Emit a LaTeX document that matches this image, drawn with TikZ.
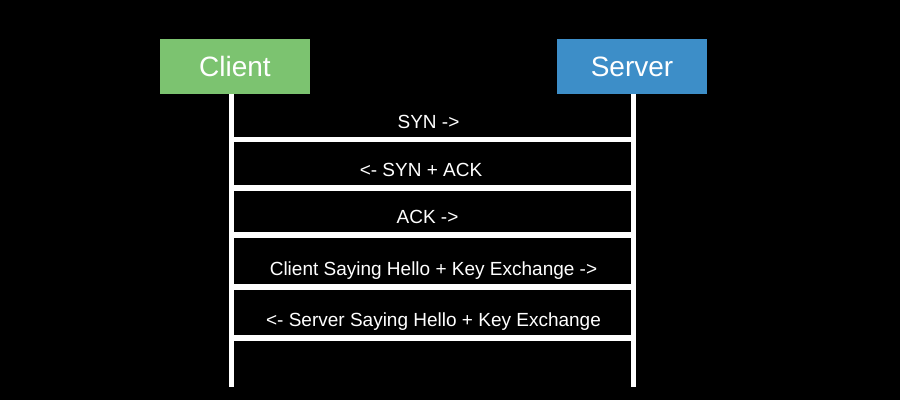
\documentclass[tikz,border=0pt]{standalone}
\usepackage{fontspec}
\setmainfont{Liberation Sans}
\definecolor{clientgreen}{HTML}{7CC370}
\definecolor{serverblue}{HTML}{3D8EC8}
\tikzset{
  actor/.style={minimum width=150pt, minimum height=55pt, inner sep=0pt, text=white, font=\fontsize{28}{30}\selectfont},
  lifeline/.style={white, line width=5pt},
  msgline/.style={white, line width=5.5pt},
  msglabel/.style={text=white, inner sep=0pt, text depth=0pt, text height=13.5pt, font=\fontsize{19}{21}\selectfont}
}
\begin{document}
\begin{tikzpicture}[x=1pt,y=-1pt]
\fill[black] (0,0) rectangle (900,400);
\useasboundingbox (0,0) rectangle (900,400);
\node[actor, fill=clientgreen] (client) at (235,66.5) {Client};
\node[actor, fill=serverblue] (server) at (632,66.5) {Server};
\coordinate (cl) at (231.5,94);
\coordinate (sl) at (633.5,94);
\coordinate (clend) at (231.5,387);
\coordinate (slend) at (633.5,387);
\draw[lifeline] (cl) -- (clend);
\draw[lifeline] (sl) -- (slend);
\foreach \y/\n in {139.7/a,188/b,235/c,287/d,338/e}{
  \coordinate (l\n) at (231.5,\y);
  \coordinate (r\n) at (633.5,\y);
  \draw[msgline] (l\n) -- (r\n);
}
\node[msglabel] (m1) at (428.5,121.7) {SYN ->};
\node[msglabel] (m2) at (421,170) {<- SYN + ACK};
\node[msglabel] (m3) at (427.5,217) {ACK ->};
\node[msglabel] (m4) at (433.5,268.5) {Client Saying Hello + Key Exchange ->};
\node[msglabel] (m5) at (433.5,320) {<- Server Saying Hello + Key Exchange};
\end{tikzpicture}
\end{document}
